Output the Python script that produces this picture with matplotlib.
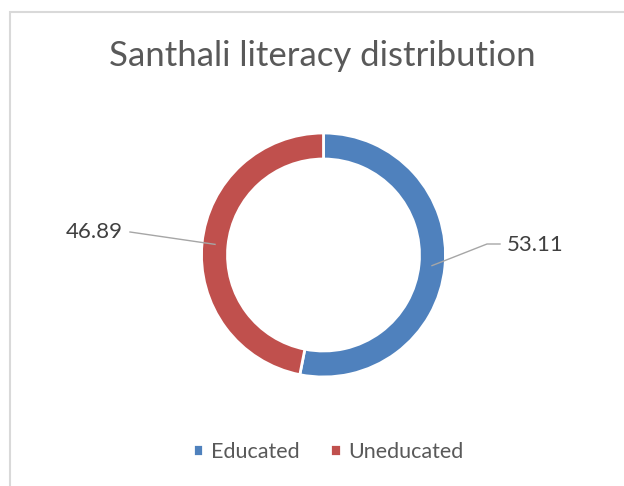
import numpy as np
import matplotlib
matplotlib.use("Agg")
import matplotlib.pyplot as plt
from matplotlib.patches import Rectangle

# literacy split for the Santhali community
categories = ["Educated", "Uneducated"]
shares = [53.11, 46.89]
colors = ["#4F81BD", "#C0504D"]

plt.rcParams['font.family'] = ['Lato', 'DejaVu Sans']
W, H = 624, 486
fig = plt.figure(figsize=(W / 100, H / 100), dpi=100)
fig.patch.set_facecolor("white")

# axes in pixel units (y up) over the whole canvas
ax = fig.add_axes([0, 0, 1, 1])

cx, cy, r = 323.5, H - 255, 122
ring = 26
wedges, _ = ax.pie(shares, colors=colors, startangle=90, counterclock=False,
                   center=(cx, cy), radius=r, frame=True,
                   wedgeprops=dict(width=ring, edgecolor="white", linewidth=2))
ax.set_xlim(0, W)
ax.set_ylim(0, H)
ax.set_aspect("equal")
ax.axis("off")

# value labels with leader lines to the middle of each ring segment
label_pos = [(507, H - 245), (123, H - 232)]
for w, val, (tx, ty) in zip(wedges, shares, label_pos):
    mid = np.deg2rad((w.theta1 + w.theta2) / 2)
    rm = r - ring / 2
    px, py = cx + rm * np.cos(mid), cy + rm * np.sin(mid)
    if tx > cx:
        xs = [px, tx - 20, tx - 7]
        ys = [py, ty + 1, ty + 1]
        ax.text(tx, ty, f"{val:.2f}", ha="left", va="center", fontsize=16, color="#404040")
    else:
        xs = [px, tx + 7]
        ys = [py, ty]
        ax.text(tx, ty, f"{val:.2f}", ha="right", va="center", fontsize=16, color="#404040")
    ax.plot(xs, ys, color="#A6A6A6", lw=1)

fig.text(322 / W, 1 - 56 / H, "Santhali literacy distribution", ha="center", va="center",
         fontsize=25, color="#595959")

fig.legend(wedges, categories, loc="center", bbox_to_anchor=(328 / W, 1 - 452 / H),
           ncol=2, frameon=False, fontsize=15.5, handlelength=0.5, handleheight=0.5,
           handletextpad=0.35, columnspacing=1.4, labelcolor="#595959")

# chart area border
fig.add_artist(Rectangle((10 / W, -0.1), 1.2, 1.1 - 12 / H, transform=fig.transFigure,
                         fill=False, edgecolor="#D9D9D9", lw=1.5))

fig.savefig("out.png", dpi=100, facecolor="white")
